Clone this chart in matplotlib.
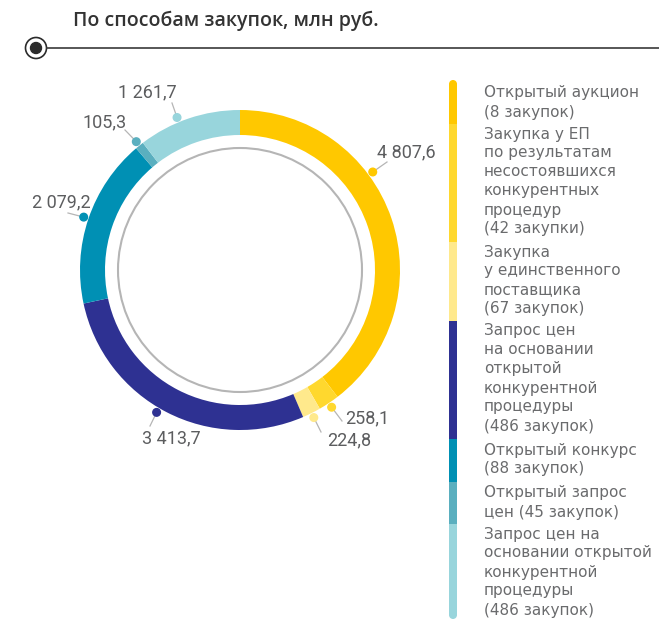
import numpy as np
import matplotlib
matplotlib.use("Agg")
import matplotlib.pyplot as plt
from matplotlib.patches import Circle, Rectangle

# --- data -------------------------------------------------------------
title = "По способам закупок, млн руб."
values = [4807.6, 258.1, 224.8, 3413.7, 2079.2, 105.3, 1261.7]
value_labels = ["4 807,6", "258,1", "224,8", "3 413,7", "2 079,2", "105,3", "1 261,7"]
legend_labels = [
    ["Открытый аукцион", "(8 закупок)"],
    ["Закупка у ЕП", "по результатам", "несостоявшихся", "конкурентных", "процедур", "(42 закупки)"],
    ["Закупка", "у единственного", "поставщика", "(67 закупок)"],
    ["Запрос цен", "на основании", "открытой", "конкурентной", "процедуры", "(486 закупок)"],
    ["Открытый конкурс", "(88 закупок)"],
    ["Открытый запрос", "цен (45 закупок)"],
    ["Запрос цен на", "основании открытой", "конкурентной", "процедуры", "(486 закупок)"],
]
colors = ["#FFC800", "#FFD82E", "#FFE98C", "#2E3192", "#0090B4", "#5AAFBF", "#98D5DC"]

# --- figure in pixel coordinates -------------------------------------
W, H = 659, 619
fig = plt.figure(figsize=(W / 100, H / 100), dpi=100)
ax = fig.add_axes([0, 0, 1, 1])


def py(y):
    return H - y


CX, CY, R, RING = 240, 270, 160, 25

ax.pie(values, colors=colors, startangle=90, counterclock=False,
       radius=R, center=(CX, py(CY)),
       wedgeprops=dict(width=RING, edgecolor="none", linewidth=0))
ax.add_patch(Circle((CX, py(CY)), 122, fill=False, edgecolor="#b5b5b5", linewidth=1.5))
ax.set_xlim(0, W)
ax.set_ylim(0, H)
ax.set_aspect("equal")
ax.axis("off")

# --- value labels with leader dots ----------------------------------
num_color = "#5c5d5f"
leg_color = "#6a6b6d"
num_font = ["Roboto", "DejaVu Sans"]
dot_frac = [0.376, 0.5, 0.5, 0.53, 0.5, 0.5, 0.40]
text_pos = [(377, 152), (345, 418), (327, 440), (142, 438), (32, 202), (82, 122), (118, 92)]
line_end = [(387, 162), (342, 421), (321, 432), (150, 426), (68, 213), (125, 130), (172, 103)]

total = sum(values)
start = 0.0
for v, lab, frac, tp, le, c in zip(values, value_labels, dot_frac, text_pos, line_end, colors):
    ang = np.deg2rad((start + v * frac) / total * 360.0)
    dx, dy = CX + 165 * np.sin(ang), CY - 165 * np.cos(ang)
    ax.plot([dx, le[0]], [py(dy), py(le[1])], color="#b5b5b5", lw=0.9, zorder=2)
    ax.add_patch(Circle((dx, py(dy)), 3.8, color=c, zorder=3))
    ax.text(tp[0], py(tp[1]), lab, fontsize=13, family=num_font, color=num_color,
            ha="left", va="center")
    start += v

# --- legend: stacked colour bar + text ------------------------------
leg_font = ["DejaVu Sans"]
first_line = [93, 134, 252, 331, 450, 493, 534]
step = 19.0
bar_x, bar_w = 449, 8
bar_top, bar_bot = 84, 615
bounds = [bar_top]
for i in range(len(legend_labels) - 1):
    last = first_line[i] + step * (len(legend_labels[i]) - 1)
    bounds.append((last + first_line[i + 1]) / 2 + 1)
bounds.append(bar_bot)

for i, (lines, c) in enumerate(zip(legend_labels, colors)):
    y0, y1 = bounds[i], bounds[i + 1]
    ax.add_patch(Rectangle((bar_x, py(y1)), bar_w, y1 - y0, color=c, lw=0))
    for k, s in enumerate(lines):
        ax.text(484, py(first_line[i] + step * k), s, fontsize=11, family=leg_font,
                color=leg_color, ha="left", va="center")
# rounded ends of the bar
ax.add_patch(Circle((bar_x + bar_w / 2, py(bar_top)), bar_w / 2, color=colors[0], lw=0))
ax.add_patch(Circle((bar_x + bar_w / 2, py(bar_bot)), bar_w / 2, color=colors[-1], lw=0))

# --- heading with rule and bullet -------------------------------------
ax.text(73, py(21), title, fontsize=14, family=["Open Sans", "DejaVu Sans"], weight="semibold",
        color="#333333", ha="left", va="center")
ax.plot([47, W], [py(47.5), py(47.5)], color="#3a3a3a", lw=1.2)
ax.add_patch(Circle((36, py(48)), 10.5, fill=False, edgecolor="#2b2b2b", lw=1.2))
ax.add_patch(Circle((36, py(48)), 5.5, color="#2b2b2b"))

fig.savefig("out.png", dpi=100)
